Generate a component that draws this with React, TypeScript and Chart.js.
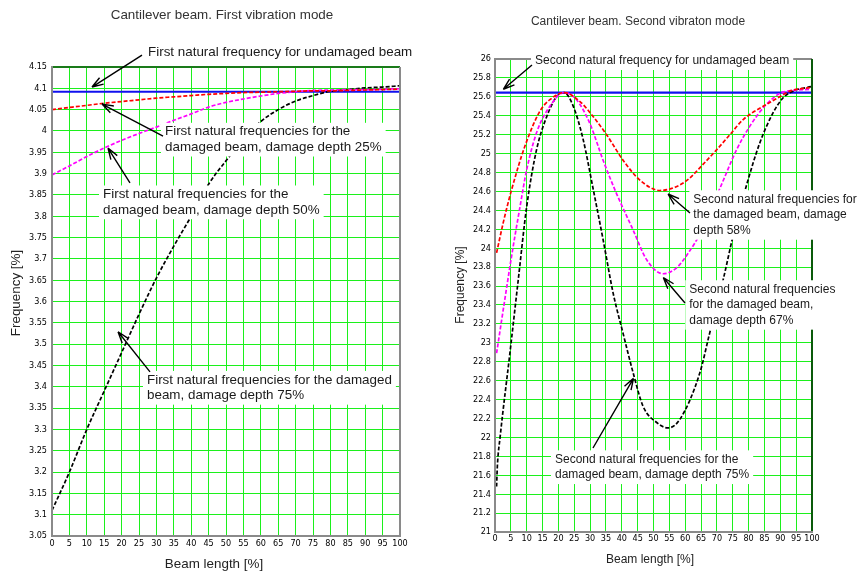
import { useEffect, useRef } from "react";
import { Chart, registerables } from "chart.js";

Chart.register(...registerables);

// ---- shared axis ticks ----
const beamTicks = [0, 5, 10, 15, 20, 25, 30, 35, 40, 45, 50, 55, 60, 65, 70, 75, 80, 85, 90, 95, 100];

// ---- first vibration mode ----
const firstModeTicks = [3.05, 3.1, 3.15, 3.2, 3.25, 3.3, 3.35, 3.4, 3.45, 3.5, 3.55, 3.6, 3.65, 3.7, 3.75, 3.8, 3.85, 3.9, 3.95, 4, 4.05, 4.1, 4.15];
const firstUndamaged = 4.092;
const firstPos = [0, 5, 10, 15, 20, 25, 30, 35, 40, 45, 50, 55, 60, 65, 70, 75, 80, 85, 90, 95, 100];
const firstDepth25 = [4.05, 4.055, 4.06, 4.065, 4.069, 4.073, 4.077, 4.08, 4.083, 4.086, 4.088, 4.09, 4.091, 4.092, 4.093, 4.094, 4.094, 4.095, 4.096, 4.097, 4.098];
const firstDepth50 = [3.897, 3.918, 3.94, 3.96, 3.978, 3.994, 4.009, 4.025, 4.04, 4.056, 4.067, 4.075, 4.082, 4.088, 4.092, 4.095, 4.096, 4.097, 4.097, 4.098, 4.099];
const firstDepth75 = [3.11, 3.2, 3.3, 3.39, 3.48, 3.57, 3.655, 3.73, 3.8, 3.875, 3.93, 3.98, 4.022, 4.05, 4.07, 4.083, 4.093, 4.097, 4.101, 4.103, 4.106];

// ---- second vibration mode ----
const secondModeTicks = [21, 21.2, 21.4, 21.6, 21.8, 22, 22.2, 22.4, 22.6, 22.8, 23, 23.2, 23.4, 23.6, 23.8, 24, 24.2, 24.4, 24.6, 24.8, 25, 25.2, 25.4, 25.6, 25.8, 26];
const secondUndamaged = 25.645;
const secondDepth58Pos = [0.5, 2.6, 5.25, 9.45, 14.2, 17.3, 21.8, 26.8, 31, 35.2, 40.4, 45.7, 52, 57.2, 61.4, 64.6, 69.9, 74.1, 78.3, 84.6, 89.8, 93, 100];
const secondDepth58 = [23.95, 24.27, 24.62, 25.08, 25.45, 25.57, 25.645, 25.55, 25.39, 25.2, 24.93, 24.72, 24.61, 24.65, 24.74, 24.85, 25.04, 25.2, 25.36, 25.5, 25.6, 25.66, 25.7];
const secondDepth67Pos = [0.5, 2.6, 5.25, 7.9, 10, 13.1, 17.3, 21.8, 25.7, 29.9, 34.1, 38.3, 43.6, 47.8, 53, 57.2, 61.4, 64.6, 67.5, 70.9, 76.2, 80.4, 85.6, 90.9, 100];
const secondDepth67 = [22.89, 23.35, 23.92, 24.44, 24.83, 25.22, 25.5, 25.645, 25.57, 25.32, 24.93, 24.58, 24.19, 23.88, 23.73, 23.79, 23.97, 24.15, 24.38, 24.63, 25.04, 25.29, 25.52, 25.65, 25.68];
const secondDepth75Pos = [0.5, 0.75, 1.6, 4.7, 7.35, 10, 13.1, 16.3, 19.4, 21.8, 24.7, 27.8, 31, 34.1, 37.3, 40.4, 43.6, 46.7, 50.9, 54.6, 58.3, 64.6, 67.7, 72, 75.1, 79.3, 83.5, 87.7, 90.9, 94, 100];
const secondDepth75 = [21.48, 21.7, 22.0, 22.89, 23.67, 24.44, 25.04, 25.39, 25.6, 25.645, 25.5, 25.15, 24.62, 24.09, 23.52, 23.1, 22.68, 22.33, 22.16, 22.1, 22.19, 22.68, 23.1, 23.67, 24.13, 24.66, 25.11, 25.43, 25.59, 25.66, 25.71];

const TEXT_FONT = '"Liberation Sans", Arial, sans-serif';
const TICK_FONT = '"Liberation Sans Narrow", "DejaVu Sans Condensed", sans-serif';
const GRID = "#1cf01c";
const FRAME = "#8a8a8a";

interface Note {
  lines: string[];
  at: [number, number];
  tail: [number, number];
  tip: [number, number];
}

interface Series {
  pos: number[];
  vals: number[];
  color: string;
}

interface PanelSpec {
  width: number;
  height: number;
  area: { left: number; right: number; top: number; bottom: number };
  title: string;
  titleAt: [number, number];
  xTitleAt: [number, number];
  yTitleAt: [number, number];
  fontSize: number;
  lineGap: number;
  yMin: number;
  yMax: number;
  yTicks: number[];
  undamaged: number;
  series: Series[];
  notes: Note[];
  topFrame: string;
  rightFrame: string;
  xLabelPad: number;
  yLabelPad: number;
}

const firstPanel: PanelSpec = {
  width: 428,
  height: 571,
  area: { left: 52, right: 400, top: 67, bottom: 536 },
  title: "Cantilever beam. First vibration mode",
  titleAt: [222, 15],
  xTitleAt: [214, 564],
  yTitleAt: [16, 293],
  fontSize: 13.4,
  lineGap: 15.7,
  yMin: 3.05,
  yMax: 4.15,
  yTicks: firstModeTicks,
  undamaged: firstUndamaged,
  series: [
    { pos: firstPos, vals: firstDepth25, color: "#ff0000" },
    { pos: firstPos, vals: firstDepth50, color: "#ff00ff" },
    { pos: firstPos, vals: firstDepth75, color: "#000000" },
  ],
  notes: [
    { lines: ["First natural frequency for undamaged beam"], at: [27.59, 4.185], tail: [25.86, 4.178], tip: [11.49, 4.103] },
    { lines: ["First natural frequencies for the", "damaged beam, damage depth 25%"], at: [32.47, 3.998], tail: [31.9, 3.988], tip: [14.37, 4.063] },
    { lines: ["First natural frequencies for the", "damaged beam, damage depth 50%"], at: [14.66, 3.851], tail: [22.41, 3.878], tip: [16.09, 3.96] },
    { lines: ["First natural frequencies for the damaged", "beam, damage depth 75%"], at: [27.3, 3.416], tail: [28.16, 3.435], tip: [18.97, 3.529] },
  ],
  topFrame: "#1a7a1a",
  rightFrame: FRAME,
  xLabelPad: 2,
  yLabelPad: 5,
};

const secondPanel: PanelSpec = {
  width: 429,
  height: 571,
  area: { left: 67, right: 384, top: 59, bottom: 532 },
  title: "Cantilever beam. Second vibraton mode",
  titleAt: [210, 22],
  xTitleAt: [222, 560],
  yTitleAt: [33, 285],
  fontSize: 12,
  lineGap: 15.7,
  yMin: 21,
  yMax: 26,
  yTicks: secondModeTicks,
  undamaged: secondUndamaged,
  series: [
    { pos: secondDepth58Pos, vals: secondDepth58, color: "#ff0000" },
    { pos: secondDepth67Pos, vals: secondDepth67, color: "#ff00ff" },
    { pos: secondDepth75Pos, vals: secondDepth75, color: "#000000" },
  ],
  notes: [
    { lines: ["Second natural frequency for undamaged beam"], at: [12.62, 25.979], tail: [11.67, 25.937], tip: [2.62, 25.68] },
    { lines: ["Second natural frequencies for", "the damaged beam, damage", "depth 58%"], at: [62.56, 24.517], tail: [61.51, 24.372], tip: [54.57, 24.573] },
    { lines: ["Second natural frequencies", "for the damaged beam,", "damage depth 67%"], at: [61.29, 23.566], tail: [59.94, 23.421], tip: [53.09, 23.69] },
    { lines: ["Second natural frequencies for the", "damaged beam, damage depth 75%"], at: [18.93, 21.768], tail: [30.91, 21.888], tip: [43.69, 22.625] },
  ],
  topFrame: FRAME,
  rightFrame: "#0a5a0a",
  xLabelPad: 1,
  yLabelPad: 4,
};

const fmtTick = (v: number | string) => String(Math.round(Number(v) * 100) / 100);

function decorations(p: PanelSpec) {
  return {
    id: "panelDecor",
    afterDatasetsDraw(chart: any) {
      const { ctx, chartArea: a, scales } = chart;
      const xs = scales.x;
      const ys = scales.y;
      ctx.save();
      // plot frame
      const seg = (x0: number, y0: number, x1: number, y1: number, c: string) => {
        ctx.strokeStyle = c;
        ctx.lineWidth = 2;
        ctx.beginPath();
        ctx.moveTo(x0, y0);
        ctx.lineTo(x1, y1);
        ctx.stroke();
      };
      seg(a.left, a.top, a.right, a.top, p.topFrame);
      seg(a.right, a.top, a.right, a.bottom, p.rightFrame);
      seg(a.left, a.top - 1, a.left, a.bottom + 1, FRAME);
      seg(a.left - 1, a.bottom, a.right + 1, a.bottom, FRAME);

      // callouts: white label box, text, arrow
      ctx.font = `${p.fontSize}px ${TEXT_FONT}`;
      ctx.textAlign = "left";
      ctx.textBaseline = "middle";
      for (const n of p.notes) {
        const tx = xs.getPixelForValue(n.at[0]);
        const ty = ys.getPixelForValue(n.at[1]);
        const w = Math.max(...n.lines.map((l) => ctx.measureText(l).width));
        const h = (n.lines.length - 1) * p.lineGap;
        ctx.fillStyle = "#ffffff";
        ctx.fillRect(tx - 4, ty - 9, w + 8, h + 18);
        ctx.fillStyle = "#1a1a1a";
        n.lines.forEach((l, i) => ctx.fillText(l, tx, ty + i * p.lineGap));

        const x0 = xs.getPixelForValue(n.tail[0]);
        const y0 = ys.getPixelForValue(n.tail[1]);
        const x1 = xs.getPixelForValue(n.tip[0]);
        const y1 = ys.getPixelForValue(n.tip[1]);
        const ang = Math.atan2(y0 - y1, x0 - x1);
        ctx.strokeStyle = "#000000";
        ctx.lineWidth = 1.4;
        ctx.beginPath();
        ctx.moveTo(x0, y0);
        ctx.lineTo(x1, y1);
        for (const d of [-0.32, 0.32]) {
          ctx.moveTo(x1, y1);
          ctx.lineTo(x1 + 12 * Math.cos(ang + d), y1 + 12 * Math.sin(ang + d));
        }
        ctx.stroke();
      }
      ctx.restore();
    },
    afterDraw(chart: any) {
      const { ctx } = chart;
      ctx.save();
      ctx.font = `${p.fontSize}px ${TEXT_FONT}`;
      ctx.textAlign = "center";
      ctx.textBaseline = "middle";
      ctx.fillStyle = "#333333";
      ctx.fillText(p.title, p.titleAt[0], p.titleAt[1]);
      ctx.fillStyle = "#222222";
      ctx.fillText("Beam length [%]", p.xTitleAt[0], p.xTitleAt[1]);
      ctx.translate(p.yTitleAt[0], p.yTitleAt[1]);
      ctx.rotate(-Math.PI / 2);
      ctx.fillText("Frequency [%]", 0, 0);
      ctx.restore();
    },
  };
}

function buildConfig(p: PanelSpec): any {
  const datasets: any[] = [
    {
      data: [
        { x: 0, y: p.undamaged },
        { x: 100, y: p.undamaged },
      ],
      borderColor: "#1010ee",
      borderWidth: 2.2,
      pointRadius: 0,
      tension: 0,
      order: 10,
    },
    ...p.series.map((s, k) => ({
      data: s.pos.map((x, i) => ({ x, y: s.vals[i] })),
      borderColor: s.color,
      borderWidth: 1.7,
      borderDash: [4, 2],
      pointRadius: 0,
      cubicInterpolationMode: "monotone",
      order: k,
    })),
  ];
  return {
    type: "line",
    data: { datasets },
    options: {
      responsive: false,
      animation: false,
      devicePixelRatio: 1,
      layout: { padding: { left: 0, top: p.area.top, right: p.width - p.area.right, bottom: 0 } },
      plugins: { legend: { display: false }, tooltip: { enabled: false }, title: { display: false } },
      scales: {
        x: {
          type: "linear",
          min: 0,
          max: 100,
          afterBuildTicks: (s: any) => {
            s.ticks = beamTicks.map((v) => ({ value: v }));
          },
          afterFit: (s: any) => {
            s.height = p.height - p.area.bottom;
            s.paddingLeft = 0;
            s.paddingRight = 0;
          },
          ticks: { autoSkip: false, maxRotation: 0, padding: p.xLabelPad, color: "#000", font: { family: TICK_FONT, size: 9 }, callback: fmtTick },
          grid: { color: GRID, lineWidth: 1, drawTicks: false },
          border: { display: false },
        },
        y: {
          type: "linear",
          min: p.yMin,
          max: p.yMax,
          afterBuildTicks: (s: any) => {
            s.ticks = p.yTicks.map((v) => ({ value: v }));
          },
          afterFit: (s: any) => {
            s.width = p.area.left;
            s.paddingTop = 0;
            s.paddingBottom = 0;
          },
          ticks: { autoSkip: false, padding: p.yLabelPad, color: "#000", font: { family: TICK_FONT, size: 9 }, callback: fmtTick },
          grid: { color: GRID, lineWidth: 1, drawTicks: false },
          border: { display: false },
        },
      },
    },
    plugins: [decorations(p)],
  };
}

function Panel({ spec, left }: { spec: PanelSpec; left: number }) {
  const ref = useRef<HTMLCanvasElement>(null);
  useEffect(() => {
    if (!ref.current) return;
    const chart = new Chart(ref.current, buildConfig(spec));
    return () => chart.destroy();
  }, [spec]);
  return (
    <canvas
      ref={ref}
      width={spec.width}
      height={spec.height}
      style={{ position: "absolute", left, top: 0, width: spec.width, height: spec.height }}
    />
  );
}

export default function App() {
  return (
    <div style={{ position: "absolute", left: 0, top: 0, width: 857, height: 571, background: "#ffffff", overflow: "hidden" }}>
      <Panel spec={firstPanel} left={0} />
      <Panel spec={secondPanel} left={428} />
    </div>
  );
}
